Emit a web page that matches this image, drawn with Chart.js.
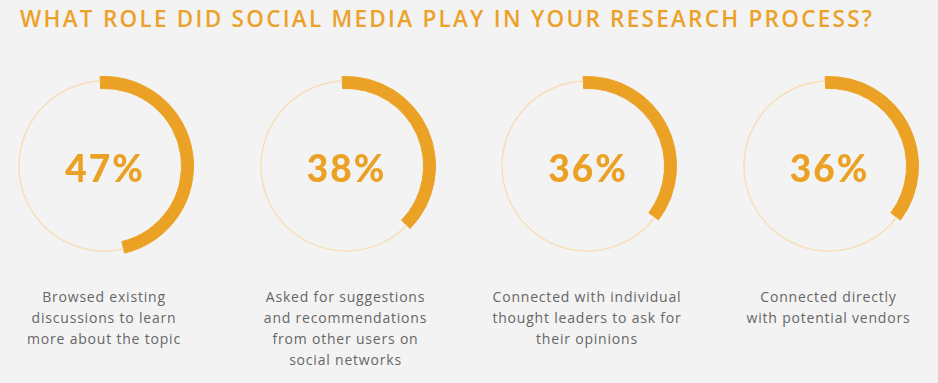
<!DOCTYPE html>
<html>
<head>
<meta charset="utf-8">
<script src="https://cdn.jsdelivr.net/npm/chart.js@4.4.1/dist/chart.umd.min.js"></script>
<style>
  body { margin: 0; background: #f3f3f3; width: 938px; height: 383px; overflow: hidden; position: relative; }
  #title { position: absolute; left: 20px; top: 7.5px; margin: 0; white-space: nowrap;
           font: 600 22.5px/22px "Open Sans", sans-serif; color: #eba12a; }
  .ring { position: absolute; top: 74px; width: 184px; height: 184px; }
  .pct { position: absolute; top: 149px; width: 180px; text-align: center; letter-spacing: 2px;
         font: 900 37px/37px "Lato", sans-serif; color: #eba124; }
  .label { position: absolute; top: 285.6px; width: 240px; text-align: center; letter-spacing: 0.8px;
           font: 400 14px/21.3px "Open Sans", sans-serif; color: #666; }
</style>
</head>
<body>
<h1 id="title"></h1>
<div id="rings"></div>

<script>
  // Chart data
  const titleText = "WHAT ROLE DID SOCIAL MEDIA PLAY IN YOUR RESEARCH PROCESS?";
  const percentValues = [47, 38, 36, 36];
  const answerLabels = [
    ["Browsed existing", "discussions to learn", "more about the topic"],
    ["Asked for suggestions", "and recommendations", "from other users on", "social networks"],
    ["Connected with individual", "thought leaders to ask for", "their opinions"],
    ["Connected directly", "with potential vendors"],
  ];

  const ORANGE = "#eba124";
  const TRACK = "#f6dfb8";
  const CLEAR = "rgba(0,0,0,0)";

  // Title, stretched with letter spacing to the reference width
  const title = document.getElementById("title");
  title.textContent = titleText;
  const natural = title.getBoundingClientRect().width;
  title.style.letterSpacing = ((852 - natural) / (titleText.length - 1)) + "px";

  // Three nested bands: the value is orange across all of them,
  // the remainder only shows as a thin track in the middle band
  const makeBand = (value, restColor, weight) => ({
    data: [value, 100 - value],
    backgroundColor: [ORANGE, restColor],
    borderColor: [ORANGE, CLEAR],
    borderWidth: [1, 0],
    weight: weight,
  });

  const createRing = (canvas, value) => {
    return new Chart(canvas.getContext("2d"), {
      type: "doughnut",
      data: {
        labels: ["Yes", "No"],
        datasets: [
          makeBand(value, CLEAR, 3.8),
          makeBand(value, TRACK, 1.5),
          makeBand(value, CLEAR, 6.7),
        ],
      },
      options: {
        responsive: false,
        animation: false,
        events: [],
        cutout: "86.7%",
        rotation: -2.5,
        layout: { padding: 2 },
        plugins: { legend: { display: false }, tooltip: { enabled: false } },
      },
    });
  };

  const holder = document.getElementById("rings");
  percentValues.forEach((value, i) => {
    const cx = 104 + i * 241.5;

    const canvas = document.createElement("canvas");
    canvas.className = "ring";
    canvas.width = 184;
    canvas.height = 184;
    canvas.style.left = (cx - 92) + "px";
    holder.appendChild(canvas);
    createRing(canvas, value);

    const pct = document.createElement("div");
    pct.className = "pct";
    pct.style.left = (cx - 89) + "px";
    pct.textContent = value + "%";
    holder.appendChild(pct);

    const label = document.createElement("div");
    label.className = "label";
    label.style.left = (cx - 120) + "px";
    label.innerHTML = answerLabels[i].join("<br>");
    holder.appendChild(label);
  });
</script>
</body>
</html>
